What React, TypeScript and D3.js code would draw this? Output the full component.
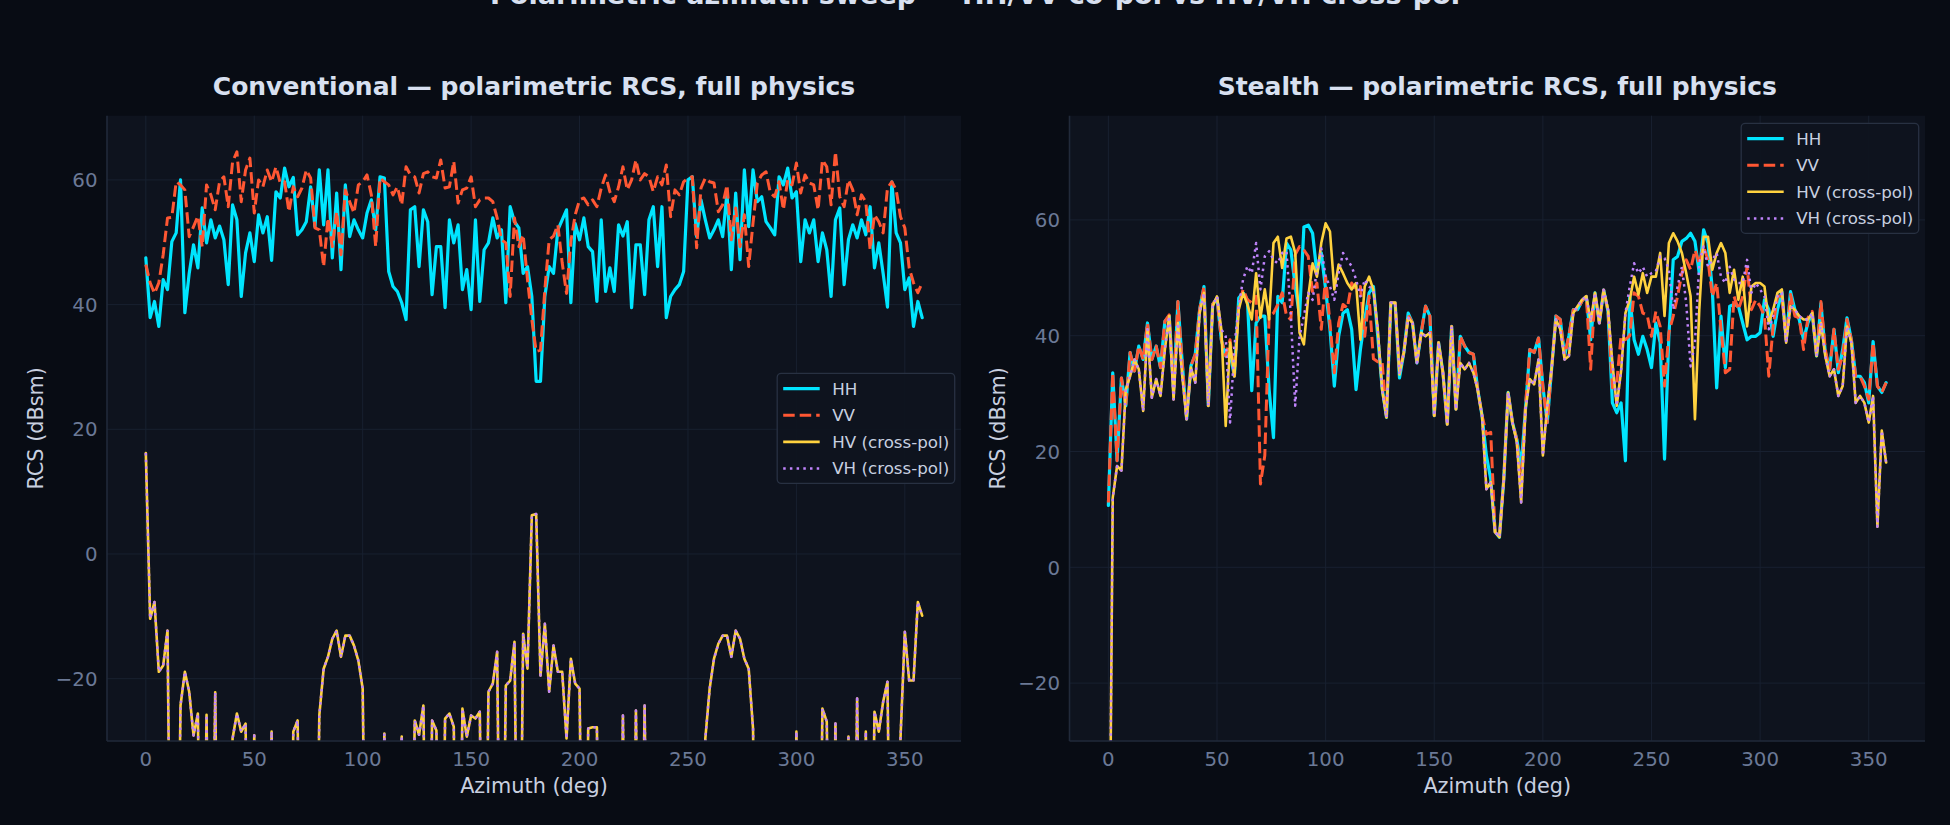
import React from 'react';
import * as d3 from 'd3';

const W = 1950;
const H = 825;

// Azimuth grid (deg)
const AZ: number[] = d3.range(0, 360, 2);

// ---------- Conventional target ----------
const CONV_HH = [
  47.5, 37.9, 40.5, 36.5, 44, 42.4, 50.1, 51.5, 60, 38.7,
  45, 49.6, 45.9, 55.5, 49.9, 53.6, 50.7, 52.6, 50.4, 43.2,
  56, 53.6, 41.3, 48.3, 51.5, 46.9, 54.4, 51.5, 54.1, 47.1,
  58.1, 57.1, 61.9, 58.9, 60.4, 51.2, 52, 53.3, 58.9, 52.5,
  61.6, 52.8, 61.6, 47.5, 57.9, 45.6, 59.2, 50.9, 53.6, 52,
  50.7, 54.7, 56.8, 52, 60.5, 60.3, 45.3, 42.9, 42.1, 40.3,
  37.6, 55.2, 55.7, 46.1, 55.2, 53.3, 41.6, 49.3, 49.3, 39.5,
  53.6, 49.9, 52.8, 42.4, 45.6, 39.2, 53.6, 40.5, 48.8, 49.9,
  53.9, 50.7, 52, 40.3, 55.7, 53.3, 52.3, 45, 46.1, 41.3,
  27.7, 27.7, 41.3, 46.1, 45, 52, 53.6, 55.2, 40.3, 53,
  50.4, 53.9, 49.3, 48.5, 40.5, 53.6, 42.1, 45.9, 42.1, 52.8,
  51, 53.3, 39.5, 49.6, 49.6, 41.6, 53.6, 55.7, 46.1, 55.7,
  37.9, 41.3, 42.4, 43.2, 45.3, 60, 60.5, 50.9, 56.8, 53.6,
  50.7, 52, 53.6, 50.9, 57.9, 45.6, 57.9, 47.2, 61.6, 52.5,
  61.6, 56.5, 57.3, 53.3, 52.3, 51.2, 60.5, 59.2, 61.9, 57.1,
  58.1, 46.9, 53.6, 51.5, 53.6, 46.9, 51.5, 48.8, 41.3, 53.6,
  55.5, 43.2, 50.4, 52.8, 50.7, 53.6, 51.2, 55.7, 45.9, 49.9,
  45, 39.6, 59.7, 51.5, 49.9, 42.4, 44.3, 36.5, 40.5, 37.9,
];

const CONV_VV = [
  46.4, 43.5, 41.8, 43.5, 48, 53.9, 54, 59.7, 59.2, 58.4,
  50.9, 52.5, 54.2, 49.3, 59.2, 57.6, 55.2, 59.7, 60.5, 55.7,
  62.9, 64.5, 56.5, 61.6, 63.5, 54.7, 60, 58.9, 61.6, 59.7,
  62.1, 59.5, 59.7, 54.9, 58.9, 57.3, 58.7, 61.6, 60.3, 52.3,
  52, 46.1, 53.9, 49.3, 54.9, 48, 58.4, 56.5, 54.7, 59.2,
  59.7, 60.8, 57.6, 49.3, 60.3, 59.7, 59.2, 57.6, 58.9, 56,
  62.1, 60.8, 60.5, 57.9, 61, 61.3, 60.5, 60.3, 63.2, 58.7,
  58.9, 63, 56.3, 58.4, 58.7, 60.5, 55.7, 56.8, 57.1, 57.1,
  56.5, 53.9, 50.4, 49.9, 41.3, 53.9, 49.3, 51.2, 44, 37.6,
  32.5, 32.7, 42.4, 50.4, 51, 52.8, 46.7, 41.8, 50.1, 54.4,
  56.8, 57.1, 56, 56.8, 55.7, 58.7, 60.8, 58.1, 56.5, 58.9,
  62.1, 58.4, 60, 63.2, 60, 61, 60.5, 58.1, 60.5, 59.2,
  62.4, 54.1, 58.4, 57.6, 59.7, 60.3, 60.5, 49.1, 58.7, 60.3,
  59.7, 59.5, 54.9, 56, 59.2, 50.4, 55.5, 49.3, 54.4, 46.1,
  53.1, 59.5, 60.8, 61.3, 57.9, 57.3, 59.7, 55.2, 60, 59.2,
  62.7, 57.9, 60.8, 59.5, 59.2, 55.2, 63.2, 62.1, 56, 64.5,
  57.3, 55.7, 60, 58.4, 54.4, 57.6, 56.5, 48.8, 54.4, 53.3,
  51.5, 58.7, 59.7, 58.4, 54.1, 52.3, 45.9, 43.5, 41.9, 43.5,
];

// cross-pol, -80 = below the plotted floor
const CONV_HV = [
  16.2, -10.4, -7.7, -18.9, -17.9, -12.3, -80, -80, -24.3, -18.9,
  -22.1, -29.1, -25.6, -80, -25.8, -80, -22.2, -80, -80, -80,
  -29.6, -25.6, -28.5, -27.2, -80, -29.1, -80, -80, -80, -28.5,
  -80, -80, -80, -80, -28.5, -26.7, -80, -80, -80, -80,
  -25.9, -18.4, -16.5, -13.6, -12.3, -16.5, -13.1, -13.1, -14.7, -17.1,
  -21.6, -80, -80, -80, -80, -28.8, -80, -80, -80, -29.3,
  -80, -80, -26.7, -29, -24.3, -80, -26.7, -28.3, -80, -26.4,
  -25.6, -27.7, -80, -24.8, -29.3, -25.9, -26.4, -25.3, -80, -22.1,
  -20.8, -15.7, -80, -21.1, -20.3, -14.1, -80, -12.8, -18.4, 6.2,
  6.4, -19.5, -11.2, -22.1, -14.7, -18.9, -18.9, -29.6, -16.8, -20.8,
  -21.6, -80, -28, -27.8, -27.8, -80, -80, -80, -80, -80,
  -25.9, -80, -80, -25.1, -80, -24.3, -80, -80, -80, -80,
  -80, -80, -80, -80, -80, -80, -80, -80, -80, -29.6,
  -21.6, -16.8, -14.4, -13.1, -13.1, -16.5, -12.3, -13.6, -16.8, -18.4,
  -28, -80, -80, -80, -80, -80, -80, -80, -80, -80,
  -28.5, -80, -80, -80, -80, -80, -24.8, -26.9, -80, -27.2,
  -80, -80, -29.3, -80, -23.2, -80, -28.5, -80, -25.3, -28.5,
  -23.7, -20.5, -80, -80, -29.6, -12.5, -20.3, -20.3, -7.7, -9.9,
];
const CONV_VH = [...CONV_HV];

// ---------- Stealth target ----------
const STEALTH_HH = [
  10.7, 33.6, 18.4, 32.7, 27.9, 37.1, 33.9, 38.2, 35.9, 42.2,
  35.9, 38.2, 34.5, 42.5, 43.4, 30.7, 45.9, 35.3, 25.6, 34.8,
  36.8, 44.5, 48.5, 27.9, 45.4, 46.5, 39.3, 36.5, 37, 33,
  46.5, 47.4, 46.2, 30.5, 42.2, 43.4, 43.4, 30.7, 22.4, 46.8,
  45.7, 56, 54.8, 48.5, 43.4, 58.8, 59.1, 57.7, 50.8, 54.3,
  48, 41.1, 31.3, 39.9, 43.9, 44.5, 41.1, 30.7, 37.6, 42.8,
  47.4,
  48.5, 39.9, 31, 25.9, 45.7, 45.7, 32.7, 37.1, 43.9, 42.2,
  35.3, 40.5, 45.1, 43.4, 26.2, 38.8, 33.6, 24.7, 41.6, 27.3,
  39.9, 38.2, 37.1, 36.8, 30.7, 26.2, 19.3, 15.2, 6.1, 5.2,
  15.2, 30.2, 25, 22.1, 17.5, 27.3, 37.6, 37.1, 39.6, 31.3,
  25, 34.2, 43.4, 42.8, 36.5, 40, 44.5, 44.5, 46, 46.8,
  39.3, 47.4, 42.2, 47.9, 44.2, 28.4, 26.7, 28.4, 18.4, 46.8,
  39.3, 36.8, 39.9, 37.6, 34.5, 42.2, 38.8, 18.7, 39.9, 53.1,
  53.7, 56.3, 56.8, 57.7, 56.3, 50.8, 58.3, 56, 48, 31,
  43.4, 34.5, 45.1, 45.4, 45.1, 42.2, 39.3, 39.9, 39.9, 40.5,
  46.2, 44.5, 39.9, 44.5, 47.6, 39.3, 47.6, 44.5, 42.8, 39.3,
  42.2, 43.9, 36.5, 45.6, 37.1, 34.2, 41.1, 33.6, 37.6, 43.1,
  39.3, 33, 33, 31.9, 28.4, 39, 31.3, 30.2, 31.9,
];

const STEALTH_VV = [
  11.2, 33.6, 18.4, 32.7, 27.9, 37.1, 33.9, 38.2, 35.9, 42.2,
  35.9, 38.2, 34.5, 42.5, 43.6, 30.7, 45.9, 35.3, 25.6, 34.8,
  36.8, 44.5, 48.5, 27.9, 45.4, 46.5, 39.3, 36.5, 39.3, 33,
  45.1, 48, 46.2, 45.7, 46.8, 14.4, 19.3, 43.4, 43.9, 45.4,
  47.4, 43.4, 42.8, 54, 55.4, 54.8, 53.7, 47.4, 49.1, 41.1,
  50.2, 42.2, 33.6, 42.2, 45.4, 44.8, 49.1, 48, 48.5, 39.9,
  46.8,
  36, 35.5, 35.5, 26, 45.7, 45.7, 34, 37.1, 43.6, 42.2,
  35.3, 40.5, 45.1, 43.4, 26.2, 38.8, 33.6, 24.7, 41.6, 27.3,
  39.9, 38.2, 37.1, 36.8, 30.7, 26.2, 23, 23.3, 6.1, 5.2,
  15.2, 30.2, 25, 22.1, 13.5, 27.9, 37.6, 37.1, 39.6, 31.3,
  25, 34.2, 43.4, 42.8, 36.5, 40, 44.5, 44.5, 46, 46.8,
  34.2, 47.4, 42.2, 47.9, 44.2, 31, 31.9, 40, 39.3, 40,
  47.4, 46.8, 43.9, 43.6, 39.9, 44.2, 41.6, 31.3, 40.5, 43.4,
  46.8, 50.8, 53.1, 51.4, 54.8, 52.5, 55.4, 53.1, 46.8, 49.1,
  41.1, 33.6, 34.2, 46.8, 44.5, 46.8, 51.9, 44.5, 46.2, 45.1,
  43.4, 33, 41.6, 46.8, 46.8, 39.3, 47.1, 43.4, 43.1, 37.6,
  43.1, 44.2, 36.5, 45.9, 37.6, 34.2, 41.1, 34.2, 36.5, 42.8,
  39.3, 33, 33, 31.3, 29, 38.8, 31.3, 30.2, 31.9,
];

const STEALTH_HV = [
  -80, 12, 17.5, 16.7, 30.7, 33, 35.9, 34.2, 27, 41.1,
  29.3, 32.5, 29.6, 37.6, 43.4, 29, 42.2, 33, 25.6, 34.5,
  31.9, 43.9, 47.4, 27.9, 45.1, 46.8, 41.1, 24.4, 38.8, 33,
  44.5, 47.4, 45.4, 42.8, 50.8, 43.1, 48, 42.8, 56, 57.1,
  51.7, 56.8, 57.1, 54.3, 40.5, 38.5, 46.8, 52.5, 50.2, 56,
  59.4, 58, 48, 52.3, 50.8, 49.1, 48, 49.1, 39.3, 48.5,
  50.2,
  47.9, 41.1, 30.7, 25.9, 45.7, 45.7, 33.3, 37.1, 43.1, 42.2,
  35.3, 40.5, 39.9, 40.5, 26.2, 38.8, 33.6, 24.7, 41.6, 27.3,
  35.3, 34.2, 35.3, 33.6, 30.7, 26.2, 13.5, 14.7, 6.1, 5.2,
  15.2, 30.2, 25, 21.6, 11.2, 27.3, 32.5, 31.6, 35.9, 19.3,
  27.9, 34.2, 42.8, 41.1, 35.9, 36.5, 43.9, 45.1, 46.2, 46.8,
  42.5, 47.4, 42.2, 47.9, 44.5, 35.3, 27.9, 33.9, 43.9, 46.2,
  50.2, 47.1, 50.8, 47.4, 50.2, 50.2, 54.3, 43.4, 56, 57.7,
  56.3, 54.3, 50.8, 46.8, 25.6, 44.5, 57.1, 57.1, 51.4, 54.3,
  56, 54.3, 47.4, 51.4, 46.2, 50.2, 41.6, 48.5, 49.1, 49.1,
  48.5, 42.2, 44.5, 47.4, 48, 38.8, 45.1, 44.5, 43.4, 42.8,
  42.8, 43.9, 36.5, 42.2, 36.5, 33, 34.2, 29.6, 31.3, 41.6,
  38.8, 28.4, 29.6, 28.4, 25, 29.6, 7, 23.6, 18.1,
];

const STEALTH_VH = [
  -80, 12, 17.5, 16.7, 30.7, 33, 35.9, 34.2, 27, 41.1,
  29.3, 32.5, 29.6, 37.6, 43.4, 29, 42.2, 33, 25.6, 34.5,
  31.9, 43.9, 47.4, 27.9, 45.1, 46.8, 41.1, 39.9, 25, 38.2,
  45.1, 49.7, 52, 50.8, 56, 48, 53.7, 54.6, 53.1, 52.5,
  54.3, 54.6, 43.4, 27.9, 39.9, 43.4, 47.4, 46.2, 51.4, 55.1,
  50.2, 48.5, 46.2, 50.8, 54.3, 53.1, 52, 49.7, 46.8, 49.7,
  48.5,
  47.9, 41.1, 30.7, 25.9, 45.7, 45.7, 33.3, 37.1, 43.1, 42.2,
  35.3, 40.5, 39.9, 40.5, 26.2, 38.8, 33.6, 24.7, 41.6, 27.3,
  35.3, 34.2, 35.3, 33.6, 30.7, 26.2, 13.5, 14.7, 6.1, 5.2,
  15.2, 30.2, 25, 21.6, 11.2, 27.3, 32.5, 31.6, 35.9, 19.3,
  27.9, 34.2, 42.8, 41.1, 35.9, 36.5, 43.9, 45.1, 46.2, 46.8,
  42.5, 47.4, 42.2, 47.9, 44.5, 35.3, 27.9, 33.9, 43.9, 48.5,
  52.5, 50.8, 51.9, 50.2, 50.8, 51.1, 53.7, 53.4, 51.4, 44.5,
  48.5, 51.9, 45.6, 34.7, 38.8, 52.5, 55.4, 51.9, 53.1, 54.3,
  50.2, 49.1, 51.9, 49.7, 49.1, 49.1, 53.1, 47.4, 49.1, 48,
  46.8, 41.1, 43.4, 46.8, 47.4, 38.8, 45.1, 44.5, 43.4, 42.8,
  42.8, 43.9, 36.5, 42.2, 36.5, 33, 34.2, 29.6, 31.3, 41.6,
  38.8, 28.4, 29.6, 28.4, 25, 29.6, 7, 23.6, 18.1,
];

const X_TICKS = [0, 50, 100, 150, 200, 250, 300, 350];
const Y_TICKS = [-20, 0, 20, 40, 60];
const SERIES_NAMES = ['HH', 'VV', 'HV (cross-pol)', 'VH (cross-pol)'];
const SUPTITLE = 'Polarimetric azimuth sweep \u2014 HH/VV co-pol vs HV/VH cross-pol';
const TITLES = ['Conventional \u2014 polarimetric RCS, full physics', 'Stealth \u2014 polarimetric RCS, full physics'];

// ---------- style ----------
const FONT = "'DejaVu Sans', 'Liberation Sans', sans-serif";
const BG = '#080c14';
const AX_BG = '#0e131e';
const GRID = '#182030';
const SPINE = '#212a3a';
const TICK_TXT = '#6b7996';
const LABEL_TXT = '#c8d0e0';
const TITLE_TXT = '#d8e0f0';

const STYLES = [
  { color: '#00e5ff', width: 3.2, dash: undefined as string | undefined },
  { color: '#ff5733', width: 3.0, dash: '11.5,5' },
  { color: '#ffd23f', width: 2.6, dash: undefined as string | undefined },
  { color: '#c084fc', width: 2.5, dash: '2.5,4.2' },
];

const TOP = 115.7;
const BOTTOM = 741;
const X_DOMAIN: [number, number] = [-17.9, 375.9];

interface PanelProps {
  id: string;
  title: string;
  left: number;
  right: number;
  yDomain: [number, number];
  series: number[][];
  legendPos: 'center' | 'upper';
}

function Panel({ id, title, left, right, yDomain, series, legendPos }: PanelProps) {
  const x = d3.scaleLinear().domain(X_DOMAIN).range([left, right]);
  const y = d3.scaleLinear().domain(yDomain).range([BOTTOM, TOP]);
  const line = d3
    .line<number>()
    .x((_, i) => x(AZ[i]))
    .y((d) => y(d));
  const cx = (left + right) / 2;

  // legend
  const lgW = 177.5;
  const lgH = 110;
  const lgRight = right - 6.3;
  const lgLeft = lgRight - lgW;
  const lgTop = legendPos === 'center' ? (TOP + BOTTOM) / 2 - lgH / 2 : TOP + 7.6;

  return (
    <g>
      <defs>
        <clipPath id={`clip-${id}`}>
          <rect x={left} y={TOP} width={right - left} height={BOTTOM - TOP} />
        </clipPath>
      </defs>
      <rect x={left} y={TOP} width={right - left} height={BOTTOM - TOP} fill={AX_BG} />
      {/* grid */}
      {X_TICKS.map((t) => (
        <line key={`gx${t}`} x1={x(t)} x2={x(t)} y1={TOP} y2={BOTTOM} stroke={GRID} strokeWidth={1} />
      ))}
      {Y_TICKS.map((t) => (
        <line key={`gy${t}`} x1={left} x2={right} y1={y(t)} y2={y(t)} stroke={GRID} strokeWidth={1} />
      ))}
      {/* series */}
      <g clipPath={`url(#clip-${id})`}>
        {series.map((s, i) => (
          <path
            key={i}
            d={line(s) || ''}
            fill="none"
            stroke={STYLES[i].color}
            strokeWidth={STYLES[i].width}
            strokeDasharray={STYLES[i].dash}
            strokeLinejoin="round"
            strokeLinecap={STYLES[i].dash ? 'butt' : 'round'}
          />
        ))}
      </g>
      {/* spines */}
      <line x1={left} x2={left} y1={TOP} y2={BOTTOM} stroke={SPINE} strokeWidth={1.6} />
      <line x1={left} x2={right} y1={BOTTOM} y2={BOTTOM} stroke={SPINE} strokeWidth={1.6} />
      {/* tick labels */}
      {X_TICKS.map((t) => (
        <text key={`tx${t}`} x={x(t)} y={766} textAnchor="middle" fontSize={19.8} fill={TICK_TXT} fontFamily={FONT}>
          {t}
        </text>
      ))}
      {Y_TICKS.map((t) => (
        <text
          key={`ty${t}`}
          x={left - 9.5}
          y={y(t) + 7.2}
          textAnchor="end"
          fontSize={19.8}
          fill={TICK_TXT}
          fontFamily={FONT}
        >
          {t < 0 ? `\u2212${Math.abs(t)}` : t}
        </text>
      ))}
      {/* axis labels */}
      <text x={cx} y={793} textAnchor="middle" fontSize={20.8} fill={LABEL_TXT} fontFamily={FONT}>
        Azimuth (deg)
      </text>
      <text
        transform={`translate(${left - 64.5},${(TOP + BOTTOM) / 2}) rotate(-90)`}
        textAnchor="middle"
        fontSize={20.8}
        fill={LABEL_TXT}
        fontFamily={FONT}
      >
        RCS (dBsm)
      </text>
      {/* title */}
      <text x={cx} y={94.5} textAnchor="middle" fontSize={25} fontWeight="bold" fill={TITLE_TXT} fontFamily={FONT}>
        {title}
      </text>
      {/* legend */}
      <rect
        x={lgLeft}
        y={lgTop}
        width={lgW}
        height={lgH}
        rx={4}
        fill={AX_BG}
        fillOpacity={0.92}
        stroke="#283142"
        strokeWidth={1.3}
      />
      {SERIES_NAMES.map((name, i) => {
        const yy = lgTop + 15.3 + i * 26.6;
        return (
          <g key={name}>
            <line
              x1={lgLeft + 6}
              x2={lgLeft + 42.5}
              y1={yy}
              y2={yy}
              stroke={STYLES[i].color}
              strokeWidth={STYLES[i].width}
              strokeDasharray={STYLES[i].dash}
            />
            <text x={lgLeft + 55} y={yy + 6} fontSize={16.7} fill={LABEL_TXT} fontFamily={FONT}>
              {name}
            </text>
          </g>
        );
      })}
    </g>
  );
}

export default function App() {
  return (
    <div style={{ position: 'fixed', left: 0, top: 0, width: W, height: H, background: BG }}>
      <svg width={W} height={H} viewBox={`0 0 ${W} ${H}`} style={{ display: 'block' }}>
        <rect x={0} y={0} width={W} height={H} fill={BG} />
        <text x={W / 2} y={4} textAnchor="middle" fontSize={27.1} fontWeight="bold" fill={TITLE_TXT} fontFamily={FONT}>
          {SUPTITLE}
        </text>
        <Panel
          id="conv"
          title={TITLES[0]}
          left={107}
          right={961}
          yDomain={[-30, 70.3]}
          series={[CONV_HH, CONV_VV, CONV_HV, CONV_VH]}
          legendPos="center"
        />
        <Panel
          id="stealth"
          title={TITLES[1]}
          left={1069.5}
          right={1925}
          yDomain={[-30, 78]}
          series={[STEALTH_HH, STEALTH_VV, STEALTH_HV, STEALTH_VH]}
          legendPos="upper"
        />
      </svg>
    </div>
  );
}
